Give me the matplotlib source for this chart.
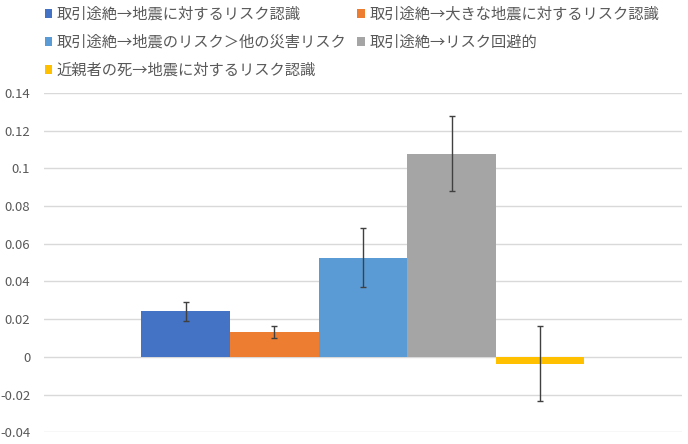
import matplotlib.pyplot as plt
import numpy as np

plt.rcParams['font.family'] = ['Noto Sans CJK JP', 'DejaVu Sans']

# データ
labels = ['取引途絶→地震に対するリスク認識',
          '取引途絶→大きな地震に対するリスク認識',
          '取引途絶→地震のリスク＞他の災害リスク',
          '取引途絶→リスク回避的',
          '近親者の死→地震に対するリスク認識']
values = [0.0241, 0.0130, 0.0525, 0.1077, -0.0036]
errors = [0.0049, 0.0032, 0.0156, 0.0200, 0.0199]
colors = ['#4472C4', '#ED7D31', '#5B9BD5', '#A5A5A5', '#FFC000']
yticks = [-0.04, -0.02, 0, 0.02, 0.04, 0.06, 0.08, 0.1, 0.12, 0.14]

fig = plt.figure(figsize=(6.88, 4.44), dpi=100)
ax = fig.add_axes([0.064, 0.026, 0.927, 0.765])

x = np.arange(len(values))
bars = []
for i in range(len(values)):
    b = ax.bar(x[i], values[i], width=1.0, color=colors[i], label=labels[i],
               yerr=errors[i], capsize=2,
               error_kw=dict(ecolor='#404040', elinewidth=1.0, capthick=1.0),
               zorder=3)
    bars.append(b)

ax.set_xlim(-1.6, 5.6)
ax.set_ylim(-0.04, 0.14)
ax.set_yticks(yticks)
ax.set_yticklabels(['%g' % t for t in yticks], color='#595959', fontsize=9.5)
ax.set_xticks([])
ax.tick_params(axis='y', length=0, pad=10)
ax.grid(axis='y', color='#D9D9D9', linewidth=1.0, zorder=0)
for s in ax.spines.values():
    s.set_visible(False)

# 凡例（行方向に並べるため順序を入れ替え）
order = [0, 2, 4, 1, 3]
fig.legend([bars[i] for i in order], [labels[i] for i in order],
           ncol=2, loc='upper left', bbox_to_anchor=(0.065, 0.987),
           frameon=False, fontsize=11, handlelength=0.5, handleheight=0.5,
           handletextpad=0.3, columnspacing=0.7, labelspacing=0.72,
           borderpad=0, borderaxespad=0, labelcolor='#595959')

fig.savefig('out.png', dpi=100)
